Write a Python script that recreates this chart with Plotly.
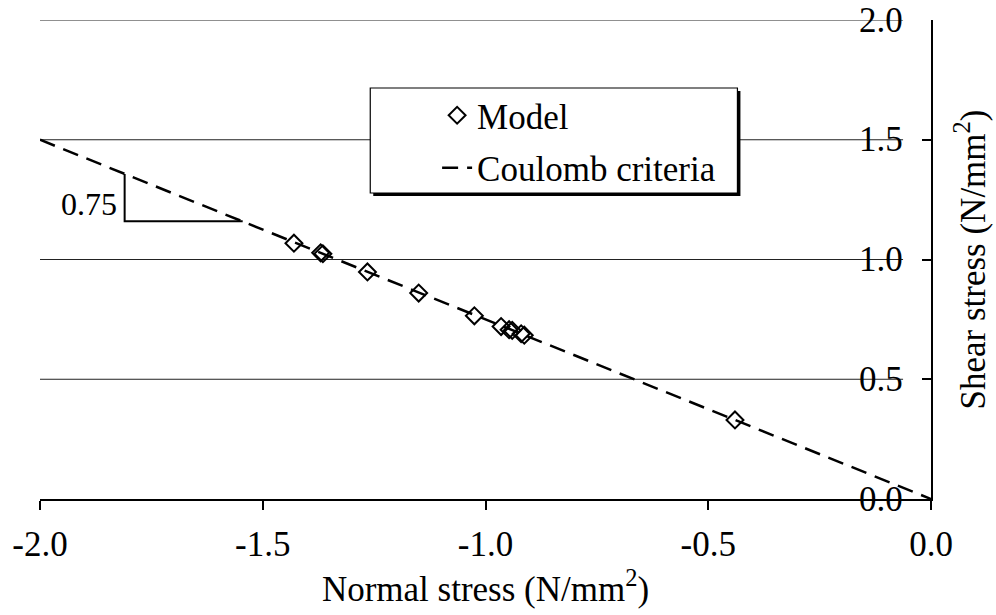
import plotly.graph_objects as go

# Data
model_x = [-1.43, -1.37, -1.365, -1.265, -1.15, -1.025, -0.965, -0.947, -0.94, -0.92, -0.913, -0.44]
model_y = [1.068, 1.028, 1.024, 0.948, 0.860, 0.765, 0.720, 0.707, 0.704, 0.690, 0.684, 0.330]
line_x = [-2.0, 0.0]
line_y = [1.5, 0.0]
slope_x = [-1.81, -1.81, -1.545]
slope_y = [1.3575, 1.16, 1.16]
slope_label = "0.75"
x_ticks = [-2.0, -1.5, -1.0, -0.5, 0.0]
y_ticks = [0.0, 0.5, 1.0, 1.5, 2.0]

FONT = "Liberation Serif"
FS = 35
TF = dict(family=FONT, size=FS, color="black")

fig = go.Figure()
fig.add_trace(go.Scatter(
    x=model_x, y=model_y, mode="markers", name="Model",
    marker=dict(symbol="diamond-open", size=13, color="black", line=dict(width=2, color="black")),
    legendgroup="a", cliponaxis=False,
))
fig.add_trace(go.Scatter(
    x=line_x, y=line_y, mode="lines", name="Coulomb criteria",
    line=dict(color="black", width=2.5, dash="16px,9px"),
    legendgroup="b", cliponaxis=False,
))
fig.add_trace(go.Scatter(
    x=slope_x, y=slope_y, mode="lines", showlegend=False,
    line=dict(color="black", width=2), hoverinfo="skip",
))
fig.add_annotation(x=slope_x[0] - 0.012, y=(slope_y[0] + slope_y[1]) / 2 - 0.025,
                   text=slope_label, showarrow=False, xanchor="right",
                   font=dict(family=FONT, size=32, color="black"))

W, H = 893, 479
ml, mt = 38, 20
def px2paper(px, py):
    return (px - ml) / W, 1 - (py - mt) / H

# gridlines (stop short of the right axis like the reference)
grid_end, _ = px2paper(903, 0)
for v in y_ticks[1:]:
    fig.add_shape(type="line", xref="paper", yref="y", x0=0, x1=grid_end, y0=v, y1=v,
                  line=dict(color="#222222", width=1), layer="below")
# y tick labels inside, left of the axis
lab_x, _ = px2paper(905, 0)
for v in y_ticks:
    fig.add_annotation(x=lab_x, xref="paper", y=v, yref="y", text=f"{v:.1f}",
                       showarrow=False, xanchor="right", yanchor="middle", font=TF)

# legend box with shadow
L, T, R, B = 369, 88, 737, 193
sx0, sy0 = px2paper(L + 3, T + 3)
sx1, sy1 = px2paper(R + 3, B + 3)
bx0, by0 = px2paper(L, T)
bx1, by1 = px2paper(R, B)
fig.add_shape(type="rect", xref="paper", yref="paper", x0=sx0, y0=sy1, x1=sx1, y1=sy0,
              fillcolor="black", line=dict(width=0), layer="above")
fig.add_shape(type="rect", xref="paper", yref="paper", x0=bx0, y0=by1, x1=bx1, y1=by0,
              fillcolor="white", line=dict(width=1.2, color="black"), layer="above")

lx, ly = px2paper(436, 86)
fig.update_layout(
    width=996, height=615,
    margin=dict(l=ml, r=996 - 931, t=mt, b=615 - 499),
    plot_bgcolor="white", paper_bgcolor="white",
    font=TF,
    showlegend=True,
    legend=dict(x=lx, y=ly, xanchor="left", yanchor="top",
                bgcolor="rgba(0,0,0,0)", borderwidth=0,
                font=TF, tracegroupgap=4),
    xaxis=dict(range=[-2.0, 0.0], tickvals=x_ticks, ticktext=[f"{v:.1f}" for v in x_ticks],
               tickfont=TF, showgrid=False, zeroline=False, showline=True, linecolor="black", linewidth=2,
               ticks="outside", ticklen=9, tickwidth=2, tickcolor="black", ticklabelstandoff=4,
               title=dict(text="Normal stress (N/mm<sup>2</sup>)", font=TF, standoff=6)),
    yaxis=dict(range=[0.0, 2.0], side="right", tickvals=y_ticks, showticklabels=False,
               showgrid=False, zeroline=False,
               showline=True, linecolor="black", linewidth=2,
               ticks="inside", ticklen=9, tickwidth=2, tickcolor="black",
               title=dict(text="Shear stress (N/mm<sup>2</sup>)", font=TF, standoff=28)),
)
fig.write_html("out.html")
